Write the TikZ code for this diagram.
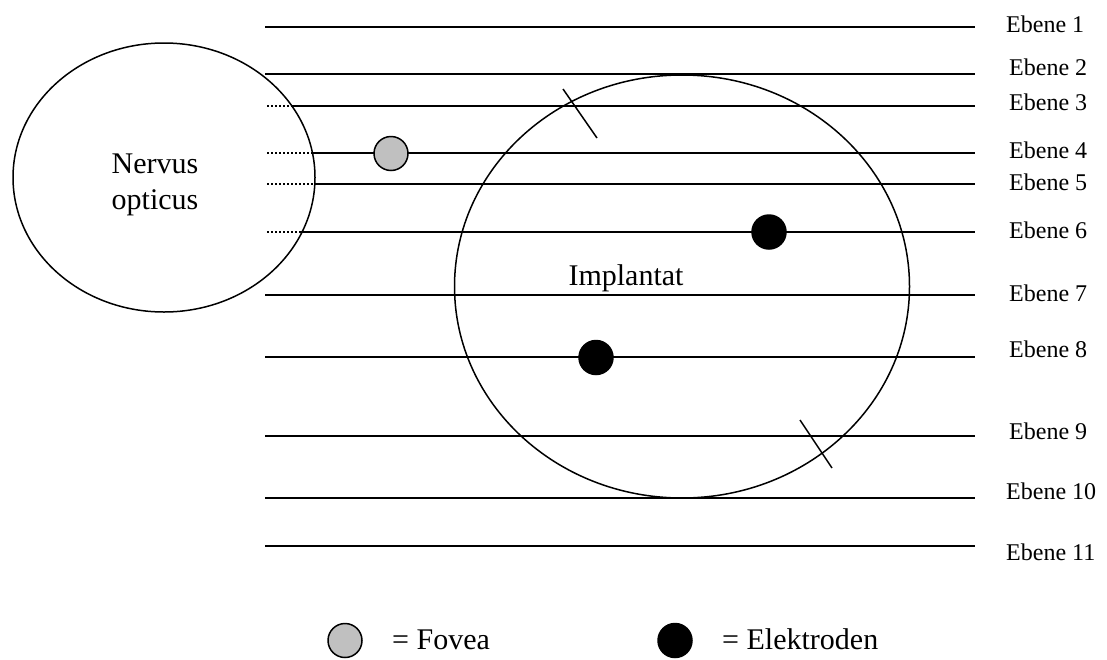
\documentclass[tikz,border=0pt]{standalone}
\usepackage{fontspec}
\setmainfont{Liberation Serif}
\usetikzlibrary{shapes.geometric}
\definecolor{foveagray}{RGB}{192,192,192}
\tikzset{
  plane/.style={line width=1.5pt},
  dotplane/.style={line width=1.5pt, dash pattern=on 2pt off 2pt},
  outline/.style={draw, line width=1.5pt, ellipse, inner sep=0pt},
  dot/.style={circle, draw, line width=1.5pt, minimum size=34pt, inner sep=0pt},
  fovea/.style={dot, fill=foveagray},
  electrode/.style={dot, fill=black},
  bigtext/.style={font=\fontsize{30}{36}\selectfont, inner sep=0pt},
  lbl/.style={font=\fontsize{24}{28}\selectfont, anchor=west, inner sep=0pt},
  tick/.style={line width=1.5pt}
}
\begin{document}
\begin{tikzpicture}[x=1pt,y=-1pt]
\useasboundingbox (0,0) rectangle (1107,659);
% outlines
\node[outline, minimum width=302pt, minimum height=269pt] (nerv) at (164,177.5) {};
\node[outline, minimum width=455pt, minimum height=423pt] (impl) at (682,286.5) {};
\node[bigtext, align=center] (nervtext) at (155,185) {Nervus\\opticus};
\node[bigtext, anchor=base] (impltext) at (626,285) {Implantat};
% planes
\coordinate (l1a) at (265,27);   \coordinate (l1b) at (975,27);
\coordinate (l2a) at (265,74);   \coordinate (l2b) at (975,74);
\coordinate (l3d) at (267,106);  \coordinate (l3a) at (291,106);  \coordinate (l3b) at (975,106);
\coordinate (l4d) at (267,153);  \coordinate (l4a) at (312,153);  \coordinate (l4b) at (975,153);
\coordinate (l5d) at (267,184);  \coordinate (l5a) at (314,184);  \coordinate (l5b) at (975,184);
\coordinate (l6d) at (267,232);  \coordinate (l6a) at (300,232);  \coordinate (l6b) at (975,232);
\coordinate (l7a) at (265,295);  \coordinate (l7b) at (975,295);
\coordinate (l8a) at (265,357);  \coordinate (l8b) at (975,357);
\coordinate (l9a) at (265,436);  \coordinate (l9b) at (975,436);
\coordinate (l10a) at (265,498); \coordinate (l10b) at (975,498);
\coordinate (l11a) at (265,546); \coordinate (l11b) at (975,546);
\draw[plane] (l1a) -- (l1b);
\draw[plane] (l2a) -- (l2b);
\draw[dotplane] (l3d) -- (l3a); \draw[plane] (l3a) -- (l3b);
\draw[dotplane] (l4d) -- (l4a); \draw[plane] (l4a) -- (l4b);
\draw[dotplane] (l5d) -- (l5a); \draw[plane] (l5a) -- (l5b);
\draw[dotplane] (l6d) -- (l6a); \draw[plane] (l6a) -- (l6b);
\draw[plane] (l7a) -- (l7b);
\draw[plane] (l8a) -- (l8b);
\draw[plane] (l9a) -- (l9b);
\draw[plane] (l10a) -- (l10b);
\draw[plane] (l11a) -- (l11b);
% ticks
\coordinate (t1a) at (563,89);  \coordinate (t1b) at (597,138);
\coordinate (t2a) at (800,420); \coordinate (t2b) at (832,468);
\draw[tick] (t1a) -- (t1b);
\draw[tick] (t2a) -- (t2b);
% dots
\node[fovea] (fov) at (391,153.5) {};
\node[electrode] (e1) at (769,232) {};
\node[electrode] (e2) at (596,357.5) {};
% labels
\node[lbl] (eb1) at (1006,24) {Ebene 1};
\node[lbl] (eb2) at (1009,67) {Ebene 2};
\node[lbl] (eb3) at (1009,102) {Ebene 3};
\node[lbl] (eb4) at (1009,150) {Ebene 4};
\node[lbl] (eb5) at (1009,182) {Ebene 5};
\node[lbl] (eb6) at (1009,230) {Ebene 6};
\node[lbl] (eb7) at (1009,293) {Ebene 7};
\node[lbl] (eb8) at (1009,349) {Ebene 8};
\node[lbl] (eb9) at (1009,431) {Ebene 9};
\node[lbl] (eb10) at (1006,491) {Ebene 10};
\node[lbl] (eb11) at (1006,552) {Ebene 11};
% legend
\node[fovea] (legf) at (345,640.5) {};
\node[bigtext, anchor=base west] (legftext) at (392,649) {= Fovea};
\node[electrode] (lege) at (675,640.5) {};
\node[bigtext, anchor=base west] (legetext) at (722,649) {= Elektroden};
\end{tikzpicture}
\end{document}
